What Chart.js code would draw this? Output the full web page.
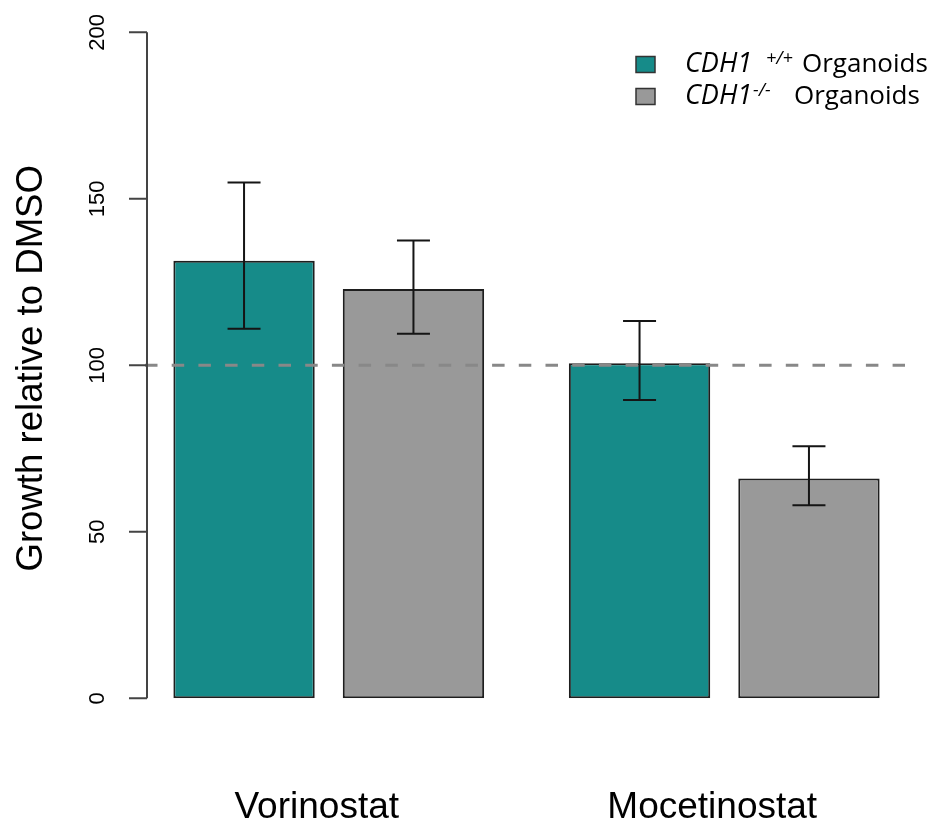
<!DOCTYPE html>
<html>
<head>
<meta charset="utf-8">
<script src="https://cdn.jsdelivr.net/npm/chart.js@4/dist/chart.umd.min.js"></script>
<style>
  html, body { margin: 0; padding: 0; background: #fff; }
  canvas { display: block; }
</style>
</head>
<body>
<canvas id="chart" width="936" height="825"></canvas>
<script>
// Drugs on the x axis
const drugs = ['Vorinostat', 'Mocetinostat'];

// CDH1 +/+ organoids: mean growth and error-bar limits (% of DMSO)
const wtGrowth = [131.4, 100.6];
const wtLower  = [111.0, 89.6];
const wtUpper  = [154.9, 113.3];

// CDH1 -/- organoids
const koGrowth = [122.9, 66.0];
const koLower  = [109.5, 58.0];
const koUpper  = [137.5, 75.7];

// y axis
const yTicks = [0, 50, 100, 150, 200];
const yTitle = 'Growth relative to DMSO';
const dmsoLevel = 100;

// legend rows: italic gene name, superscript genotype, plain suffix
const legendGenes = ['CDH1', 'CDH1'];
const legendGenotypes = ['+/+', '-/-'];
const legendSuffix = 'Organoids';

const TEAL = '#168b89';
const GREY = '#999999';

const sansAxis = '"Liberation Sans", Arial, Helvetica, sans-serif';
const sansLegend = '"Open Sans", "Noto Sans", sans-serif';

// Axis, reference line, error bars and legend drawn on the canvas
const overlay = {
  id: 'overlay',
  afterDatasetsDraw(chart) {
    const { ctx, chartArea, scales: { y } } = chart;

    // dashed DMSO reference line
    const yRef = y.getPixelForValue(dmsoLevel);
    ctx.save();
    ctx.strokeStyle = '#888888';
    ctx.lineWidth = 3;
    ctx.setLineDash([12.5, 14.2]);
    ctx.beginPath();
    ctx.moveTo(chartArea.left + 14, yRef);
    ctx.lineTo(chartArea.right - 17, yRef);
    ctx.stroke();
    ctx.restore();

    // error bars
    ctx.save();
    ctx.strokeStyle = '#151515';
    ctx.lineWidth = 2;
    chart.data.datasets.forEach((ds, di) => {
      const meta = chart.getDatasetMeta(di);
      meta.data.forEach((bar, i) => {
        const cx = bar.x;
        const yLo = y.getPixelForValue(ds.errLow[i]);
        const yHi = y.getPixelForValue(ds.errHigh[i]);
        const half = 16.5;
        ctx.beginPath();
        ctx.moveTo(cx, yLo); ctx.lineTo(cx, yHi);
        ctx.moveTo(cx - half, yLo); ctx.lineTo(cx + half, yLo);
        ctx.moveTo(cx - half, yHi); ctx.lineTo(cx + half, yHi);
        ctx.stroke();
      });
    });
    ctx.restore();
  },
  afterDraw(chart) {
    const { ctx, chartArea, scales: { y } } = chart;
    const axisX = chartArea.left + 16;

    // y axis line and ticks
    ctx.save();
    ctx.strokeStyle = '#444444';
    ctx.lineWidth = 2;
    ctx.beginPath();
    ctx.moveTo(axisX, y.getPixelForValue(yTicks[0]));
    ctx.lineTo(axisX, y.getPixelForValue(yTicks[yTicks.length - 1]));
    yTicks.forEach(v => {
      const py = y.getPixelForValue(v);
      ctx.moveTo(axisX - 18, py);
      ctx.lineTo(axisX, py);
    });
    ctx.stroke();

    // rotated tick labels
    ctx.fillStyle = '#000';
    ctx.font = '22px ' + sansAxis;
    ctx.textAlign = 'center';
    ctx.textBaseline = 'alphabetic';
    yTicks.forEach(v => {
      const py = y.getPixelForValue(v);
      ctx.save();
      ctx.translate(axisX - 43, py);
      ctx.rotate(-Math.PI / 2);
      ctx.fillText(String(v), 0, 0);
      ctx.restore();
    });

    // y axis title
    ctx.save();
    ctx.font = '36.6px ' + sansAxis;
    ctx.translate(chartArea.left - 89, (chartArea.top + chartArea.bottom) / 2 + 3);
    ctx.rotate(-Math.PI / 2);
    ctx.fillText(yTitle, 0, 0);
    ctx.restore();
    ctx.restore();

    // legend
    const colors = [TEAL, GREY];
    const boxX = 636, boxW = 19, boxH = 16;
    const baselines = [72, 104];
    const genotypeX = [766, 753];
    const suffixX = [802, 794];
    ctx.save();
    ctx.textAlign = 'left';
    ctx.textBaseline = 'alphabetic';
    legendGenes.forEach((gene, i) => {
      const base = baselines[i];
      ctx.fillStyle = colors[i];
      ctx.fillRect(boxX, base - 15.5, boxW, boxH);
      ctx.strokeStyle = '#333';
      ctx.lineWidth = 1.5;
      ctx.strokeRect(boxX, base - 15.5, boxW, boxH);

      ctx.fillStyle = '#000';
      ctx.font = 'italic 27px ' + sansLegend;
      ctx.fillText(gene, 685, base);
      ctx.font = 'italic 18px ' + sansLegend;
      ctx.fillText(legendGenotypes[i], genotypeX[i], base - 8);
      ctx.font = '26px ' + sansLegend;
      ctx.fillText(legendSuffix, suffixX[i], base);
    });
    ctx.restore();
  }
};

new Chart(document.getElementById('chart'), {
  type: 'bar',
  data: {
    labels: drugs,
    datasets: [
      {
        label: 'CDH1 +/+ Organoids',
        data: wtGrowth,
        errLow: wtLower,
        errHigh: wtUpper,
        backgroundColor: TEAL,
        borderColor: '#1e1e1e',
        borderWidth: 2,
        borderSkipped: false
      },
      {
        label: 'CDH1 -/- Organoids',
        data: koGrowth,
        errLow: koLower,
        errHigh: koUpper,
        backgroundColor: GREY,
        borderColor: '#1e1e1e',
        borderWidth: 2,
        borderSkipped: false
      }
    ]
  },
  options: {
    responsive: false,
    animation: false,
    layout: { padding: { left: 131, right: 14, top: 32.3, bottom: 0 } },
    datasets: {
      bar: { categoryPercentage: 0.8567, barPercentage: 0.8344 }
    },
    plugins: {
      legend: { display: false },
      tooltip: { enabled: false }
    },
    scales: {
      x: {
        grid: { display: false },
        border: { display: false },
        ticks: {
          color: '#000',
          padding: 79,
          labelOffset: -12,
          font: { family: sansAxis, size: 37 }
        },
        afterFit(scale) { scale.height = 126.7; }
      },
      y: {
        display: false,
        min: 0,
        max: 200
      }
    }
  },
  plugins: [overlay]
});
</script>
</body>
</html>
